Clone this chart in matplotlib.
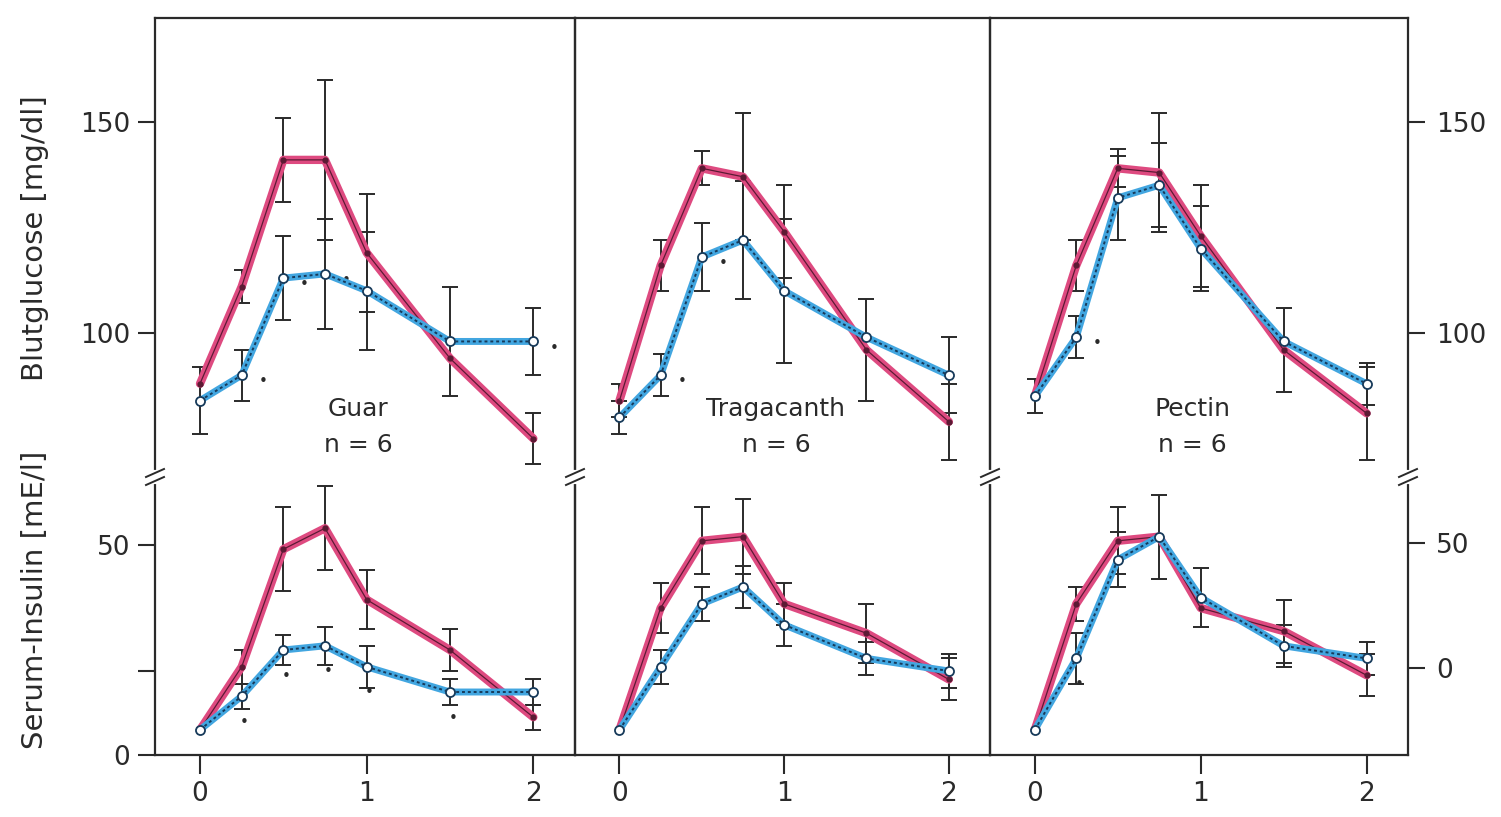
import numpy as np
import matplotlib
matplotlib.use('Agg')
import matplotlib.pyplot as plt
from matplotlib.lines import Line2D

W, H = 1501, 817
nan = np.nan

times = [0, 0.25, 0.5, 0.75, 1, 1.5, 2]
fibres = ['Guar', 'Tragacanth', 'Pectin']
n_label = 'n = 6'

# Blutglucose (mg/dl): control (red) and with fibre (blue)
guar_glu_ctrl = [88, 111, 141, 141, 119, 94, 75]
guar_glu_ctrl_err = [nan, 4, 10, 19, 14, nan, 6]
guar_glu_fib = [84, 90, 113, 114, 110, 98, 98]
guar_glu_fib_err = [8, 6, 10, 13, 14, 13, 8]

trag_glu_ctrl = [84, 116, 139, 137, 124, 96, 79]
trag_glu_ctrl_err = [4, 6, 4, 15, 11, 12, 9]
trag_glu_fib = [80, 90, 118, 122, 110, 99, 90]
trag_glu_fib_err = [4, 5, 8, 14, 17, nan, 9]

pect_glu_ctrl = [85, 116, 139, 138, 123, 96, 81]
pect_glu_ctrl_err = [4, 6, 4.5, 14, 12, 10, 11]
pect_glu_fib = [85, 99, 132, 135, 120, 98, 88]
pect_glu_fib_err = [nan, 5, 10, 10, 10, nan, 5]

# Serum-Insulin (mE/l)
guar_ins_ctrl = [6, 21, 49, 54, 37, 25, 9]
guar_ins_ctrl_err = [nan, 4, 10, 10, 7, 5, 3]
guar_ins_fib = [6, 14, 25, 26, 21, 15, 15]
guar_ins_fib_err = [nan, 3, 3.5, 4.5, 5, 3, 3]

trag_ins_ctrl = [6, 35, 51, 52, 36, 29, 18]
trag_ins_ctrl_err = [nan, 6, 8, 9, 5, 7, 5]
trag_ins_fib = [6, 21, 36, 40, 31, 23, 20]
trag_ins_fib_err = [nan, 4, 4, 5, 5, 4, 4]

pect_ins_ctrl = [6, 36, 51, 52, 35, 29.5, 19]
pect_ins_ctrl_err = [nan, 4, 8, 10, nan, 7.5, 5]
pect_ins_fib = [6, 23, 46.5, 52, 37.5, 26, 23]
pect_ins_fib_err = [nan, 6, 6.5, nan, 7, 5, 4]

# indices of points marked as significant (small dots)
sig_glu = [[1, 2, 3, 6], [1, 2], [1]]
sig_ins = [[1, 2, 3, 4, 5], [], [1]]

glu = [(guar_glu_ctrl, guar_glu_ctrl_err, guar_glu_fib, guar_glu_fib_err),
       (trag_glu_ctrl, trag_glu_ctrl_err, trag_glu_fib, trag_glu_fib_err),
       (pect_glu_ctrl, pect_glu_ctrl_err, pect_glu_fib, pect_glu_fib_err)]
ins = [(guar_ins_ctrl, guar_ins_ctrl_err, guar_ins_fib, guar_ins_fib_err),
       (trag_ins_ctrl, trag_ins_ctrl_err, trag_ins_fib, trag_ins_fib_err),
       (pect_ins_ctrl, pect_ins_ctrl_err, pect_ins_fib, pect_ins_fib_err)]

RED = '#de4a80'
RED_CORE = '#5c1a34'
BLUE = '#42a6e0'
BLUE_CORE = '#173a5a'
INK = '#2a2a2a'

col_edges = [155, 575, 990, 1408]      # pixel edges of the three boxes
y_top, y_brk, y_bot = 18, 477, 755

fig = plt.figure(figsize=(W / 100, H / 100), dpi=100)
fig.patch.set_facecolor('white')


def draw_series(ax, ctrl, ctrl_err, fib, fib_err):
    ax.errorbar(times, ctrl, yerr=ctrl_err, fmt='none', ecolor=INK, elinewidth=1.4,
                capsize=6, capthick=1.4, zorder=2)
    ax.errorbar(times, fib, yerr=fib_err, fmt='none', ecolor=INK, elinewidth=1.4,
                capsize=6, capthick=1.4, zorder=2)
    ax.plot(times, ctrl, color=RED, lw=6, solid_capstyle='round', zorder=3)
    ax.plot(times, ctrl, color=RED_CORE, lw=0.9, marker='o', ms=3.5, zorder=4)
    ax.plot(times, fib, color=BLUE, lw=5, solid_capstyle='round', zorder=5)
    ax.plot(times, fib, color=BLUE_CORE, lw=1.4, ls=(0, (1.5, 1.5)), zorder=6)
    ax.plot(times, fib, ls='none', marker='o', ms=6.5, mfc='white', mec=BLUE_CORE,
            mew=1.3, zorder=7)


for i in range(3):
    x0, x1 = col_edges[i], col_edges[i + 1]
    ax_g = fig.add_axes([x0 / W, 1 - y_brk / H, (x1 - x0) / W, (y_brk - y_top) / H])
    ax_i = fig.add_axes([x0 / W, 1 - y_bot / H, (x1 - x0) / W, (y_bot - y_brk) / H])

    draw_series(ax_g, *glu[i])
    draw_series(ax_i, *ins[i])

    for k in sig_glu[i]:
        ax_g.annotate('•', (times[k], glu[i][2][k]), xytext=(12, -8),
                      textcoords='offset points', fontsize=11, color=INK)
    for k in sig_ins[i]:
        ax_i.annotate('•', (times[k], ins[i][2][k]), xytext=(2, -22),
                      textcoords='offset points', fontsize=11, color=INK, ha='center')

    ax_g.set_xlim(-0.27, 2.25)
    ax_i.set_xlim(-0.27, 2.25)
    ax_g.set_ylim(65.9, 174.6)
    ax_i.set_ylim(0, 66.2)

    ax_g.spines['bottom'].set_visible(False)
    ax_i.spines['top'].set_visible(False)
    for ax in (ax_g, ax_i):
        for s in ax.spines.values():
            s.set_color(INK)
            s.set_linewidth(1.6)
        ax.set_facecolor('none')

    ax_g.set_xticks([])
    ax_i.set_xticks([0, 1, 2])
    ax_i.set_xticklabels(['0', '1', '2'])
    ax_i.tick_params(axis='x', direction='out', length=14, width=1.5, color=INK,
                     labelsize=19, labelcolor=INK, pad=5)

    ax_g.text(0.95, 82, fibres[i], ha='center', va='center', fontsize=18, color=INK)
    ax_g.text(0.95, 73.5, n_label, ha='center', va='center', fontsize=18, color=INK)

    if i == 0:
        ax_g.set_yticks([100, 150])
        ax_i.set_yticks([0, 20, 50])
        ax_i.set_yticklabels(['0', '', '50'])
        for ax in (ax_g, ax_i):
            ax.tick_params(axis='y', direction='out', length=12, width=1.5, color=INK,
                           labelsize=19, labelcolor=INK, pad=6)
    elif i == 2:
        ax_g.set_yticks([100, 150])
        ax_g.yaxis.tick_right()
        ax_g.tick_params(axis='y', direction='out', length=12, width=1.5, color=INK,
                         labelsize=19, labelcolor=INK, pad=8)
        ax_i.set_yticks([])
        ax_r = ax_i.twinx()
        ax_r.set_ylim(-34.8, 76.4)
        ax_r.set_yticks([0, 50])
        for s in ax_r.spines.values():
            s.set_visible(False)
        ax_r.tick_params(axis='y', direction='out', length=12, width=1.5, color=INK,
                         labelsize=19, labelcolor=INK, pad=8)
    else:
        ax_g.set_yticks([])
        ax_i.set_yticks([])

# axis-break marks on every vertical edge
yb = 1 - y_brk / H
for xp in col_edges:
    fx = xp / W
    fig.add_artist(Line2D([fx, fx], [yb - 5 / H, yb + 5 / H], color='white', lw=3,
                          transform=fig.transFigure))
    for dy in (-4, 4):
        fig.add_artist(Line2D([fx - 9 / W, fx + 9 / W],
                              [yb + (dy - 4) / H, yb + (dy + 4) / H],
                              color=INK, lw=1.4, transform=fig.transFigure))

fig.text(35 / W, 1 - 238 / H, 'Blutglucose [mg/dl]', rotation=90, ha='center',
         va='center', fontsize=21, color=INK)
fig.text(35 / W, 1 - 600 / H, 'Serum-Insulin [mE/l]', rotation=90, ha='center',
         va='center', fontsize=21, color=INK)

fig.savefig('out.png', dpi=100, facecolor='white')
